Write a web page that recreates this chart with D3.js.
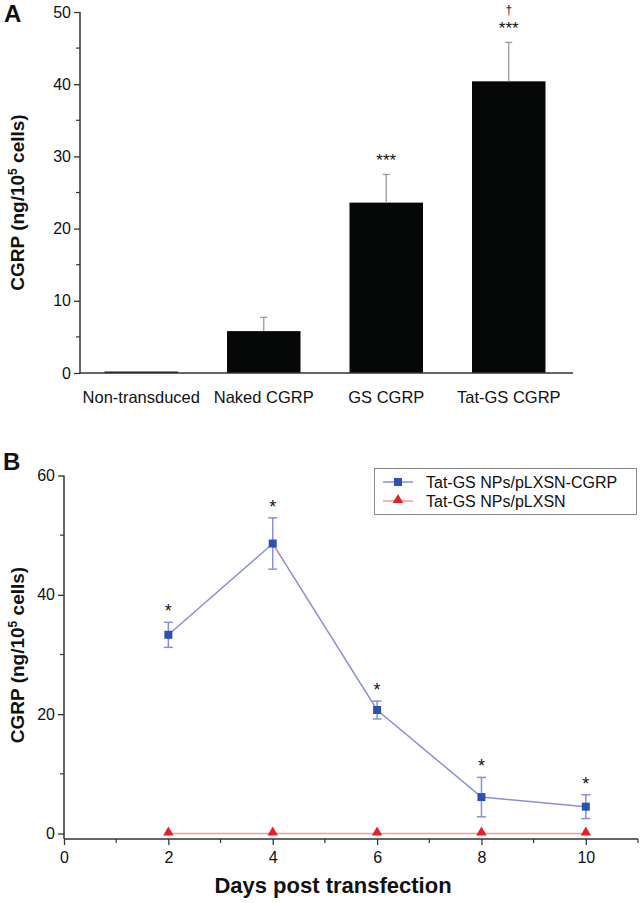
<!DOCTYPE html>
<html><head><meta charset="utf-8">
<script src="https://cdn.jsdelivr.net/npm/d3@7"></script>
<style>
body{margin:0;background:#fff;}
text{font-family:"Liberation Sans",Arial,Helvetica,sans-serif;}
</style></head>
<body><svg id="c" width="644" height="903"></svg>
<script>
// Panel A data
const categoriesA = ["Non-transduced","Naked CGRP","GS CGRP","Tat-GS CGRP"];
const valuesA = [0.2, 5.8, 23.6, 40.4];
const errorsA = [0, 1.9, 3.9, 5.4];
const sigA = ["", "", "***", "***"];
const daggerA = ["", "", "", "†"];
const yTicksA = [0,10,20,30,40,50];

// Panel B data
const daysB = [2,4,6,8,10];
const seriesCGRP = [33.3, 48.6, 20.7, 6.1, 4.5];
const errCGRP = [2.1, 4.3, 1.5, 3.3, 2.0];
const seriesCtrl = [0, 0, 0, 0, 0];
const sigB = ["*","*","*","*","*"];
const xTicksB = [0,2,4,6,8,10];
const yTicksB = [0,20,40,60];
const legendLabels = ["Tat-GS NPs/pLXSN-CGRP","Tat-GS NPs/pLXSN"];

const svg = d3.select("#c");
const axisColor = "#333";

// ---------- Panel A ----------
const A = {left:80, right:573, top:12, bottom:373};
const xA = d3.scaleBand().domain(categoriesA).range([A.left, A.right-3]).paddingInner(0.4).paddingOuter(0.2);
const yA = d3.scaleLinear().domain([0,50]).range([A.bottom, A.top]);
const gA = svg.append("g");

gA.selectAll("rect.bar").data(categoriesA).enter().append("rect")
  .attr("x", d=>xA(d)).attr("width", xA.bandwidth())
  .attr("y", (d,i)=>yA(valuesA[i])).attr("height",(d,i)=>yA(0)-yA(valuesA[i]))
  .attr("fill","#060808");
categoriesA.forEach((c,i)=>{
  if(!errorsA[i]) return;
  const cx = xA(c)+xA.bandwidth()/2;
  const top = yA(valuesA[i]+errorsA[i]);
  gA.append("line").attr("x1",cx).attr("x2",cx).attr("y1",yA(valuesA[i])).attr("y2",top).attr("stroke","#9a9a9a").attr("stroke-width",1.3);
  gA.append("line").attr("x1",cx-3.5).attr("x2",cx+3.5).attr("y1",top).attr("y2",top).attr("stroke","#9a9a9a").attr("stroke-width",1.3);
  if(sigA[i]) gA.append("text").attr("x",cx).attr("y",top-8).attr("text-anchor","middle").attr("font-size",17).attr("fill","#111").text(sigA[i]);
  if(daggerA[i]) gA.append("text").attr("x",cx).attr("y",top-28).attr("text-anchor","middle").attr("font-size",12).attr("fill","#111").text(daggerA[i]);
});

const yAxA = d3.axisLeft(yA).tickValues(yTicksA).tickSize(6).tickPadding(3);
const gyA = gA.append("g").attr("transform",`translate(${A.left},0)`).call(yAxA);
gyA.select(".domain").attr("stroke",axisColor).attr("stroke-width",1.5).attr("d",`M-0,${yA(50)}H0V${yA(0)}`);
gyA.selectAll(".tick line").attr("stroke",axisColor).attr("stroke-width",1.3);
gyA.selectAll(".tick text").attr("font-size",16).attr("fill","#111").attr("font-family","Liberation Sans, Arial, sans-serif");
gA.selectAll("line.minA").data(d3.range(5,50,10)).enter().append("line")
  .attr("x1",A.left-4).attr("x2",A.left).attr("y1",d=>yA(d)).attr("y2",d=>yA(d)).attr("stroke",axisColor).attr("stroke-width",1.2);
const xAxA = d3.axisBottom(xA).tickSize(0).tickPadding(18);
const gxA = gA.append("g").attr("transform",`translate(0,${yA(0)})`).call(xAxA);
gxA.select(".domain").attr("stroke",axisColor).attr("stroke-width",1.5).attr("d",`M${A.left},0H${A.right}`);
gxA.selectAll(".tick text").attr("font-size",16.5).attr("fill","#111").attr("font-family","Liberation Sans, Arial, sans-serif");

const ylabA = gA.append("text").attr("transform",`translate(24,${(A.top+A.bottom)/2+10}) rotate(-90)`)
  .attr("text-anchor","middle").attr("font-size",19).attr("font-weight","bold").attr("fill","#111");
ylabA.append("tspan").text("CGRP (ng/10");
ylabA.append("tspan").attr("font-size",12).attr("dy",-7).text("5");
ylabA.append("tspan").attr("dy",7).text(" cells)");
svg.append("text").attr("x",4).attr("y",22).attr("font-size",24).attr("font-weight","bold").attr("fill","#111").text("A");

// ---------- Panel B ----------
const B = {left:64, right:638, axisY:839};
const xB = d3.scaleLinear().domain([0,11]).range([B.left, B.right]);
const yB = d3.scaleLinear().domain([0,60]).range([833.5, 475.5]);
const gB = svg.append("g");

const yAxB = d3.axisLeft(yB).tickValues(yTicksB).tickSize(6).tickPadding(3);
const gyB = gB.append("g").attr("transform",`translate(${B.left},0)`).call(yAxB);
gyB.select(".domain").attr("stroke",axisColor).attr("stroke-width",1.5).attr("d",`M0,${yB(60)}V${B.axisY}`);
gyB.selectAll(".tick line").attr("stroke",axisColor).attr("stroke-width",1.3);
gyB.selectAll(".tick text").attr("font-size",16).attr("fill","#111").attr("font-family","Liberation Sans, Arial, sans-serif");
gB.selectAll("line.minB").data(d3.range(10,60,20)).enter().append("line")
  .attr("x1",B.left-4).attr("x2",B.left).attr("y1",d=>yB(d)).attr("y2",d=>yB(d)).attr("stroke",axisColor).attr("stroke-width",1.2);

const xAxB = d3.axisBottom(xB).tickValues(xTicksB).tickSize(6).tickPadding(7);
const gxB = gB.append("g").attr("transform",`translate(0,${B.axisY})`).call(xAxB);
gxB.select(".domain").attr("stroke",axisColor).attr("stroke-width",1.5).attr("d",`M${B.left},0H${B.right}`);
gxB.selectAll(".tick line").attr("stroke",axisColor).attr("stroke-width",1.3);
gxB.selectAll(".tick text").attr("font-size",16).attr("fill","#111").attr("font-family","Liberation Sans, Arial, sans-serif");
gB.selectAll("line.minxB").data(d3.range(1,12,2)).enter().append("line")
  .attr("x1",d=>xB(d)).attr("x2",d=>xB(d)).attr("y1",B.axisY).attr("y2",B.axisY+4).attr("stroke",axisColor).attr("stroke-width",1.2);

const lineGen = d3.line().x((d,i)=>xB(daysB[i])).y(d=>yB(d));
gB.append("path").datum(seriesCtrl).attr("d",lineGen).attr("fill","none").attr("stroke","#f29a9c").attr("stroke-width",1.5);
const tri = d3.symbol().type(d3.symbolTriangle).size(48);
gB.selectAll("path.tri").data(seriesCtrl).enter().append("path")
  .attr("d",tri).attr("transform",(d,i)=>`translate(${xB(daysB[i])},${yB(d)-1})`).attr("fill","#e4202a");

const blueLine = "#8a8fd6";
gB.append("path").datum(seriesCGRP).attr("d",lineGen).attr("fill","none").attr("stroke",blueLine).attr("stroke-width",1.5);
seriesCGRP.forEach((v,i)=>{
  const cx = xB(daysB[i]);
  const t = yB(v+errCGRP[i]), b = yB(v-errCGRP[i]);
  gB.append("line").attr("x1",cx).attr("x2",cx).attr("y1",t).attr("y2",b).attr("stroke",blueLine).attr("stroke-width",1.5);
  [t,b].forEach(yy=>gB.append("line").attr("x1",cx-4.5).attr("x2",cx+4.5).attr("y1",yy).attr("y2",yy).attr("stroke",blueLine).attr("stroke-width",1.5));
  gB.append("text").attr("x",cx).attr("y",t-5).attr("text-anchor","middle").attr("font-size",18).attr("fill","#111").text(sigB[i]);
});
gB.selectAll("rect.sq").data(seriesCGRP).enter().append("rect")
  .attr("x",(d,i)=>xB(daysB[i])-4).attr("y",d=>yB(d)-4).attr("width",8).attr("height",8).attr("fill","#2f4fb0");

// legend
const lg = gB.append("g");
lg.append("rect").attr("x",374.5).attr("y",468.5).attr("width",262).attr("height",46).attr("fill","#fff").attr("stroke","#8a8a8a").attr("stroke-width",1);
const lgY = [482, 501];
const lgLine = [blueLine, "#f29a9c"];
legendLabels.forEach((lab,i)=>{
  lg.append("line").attr("x1",383).attr("x2",413).attr("y1",lgY[i]).attr("y2",lgY[i]).attr("stroke",lgLine[i]).attr("stroke-width",1.5);
  if(i===0) lg.append("rect").attr("x",394).attr("y",lgY[i]-4).attr("width",8).attr("height",8).attr("fill","#2f4fb0");
  else lg.append("path").attr("d",tri).attr("transform",`translate(398,${lgY[i]-1})`).attr("fill","#e4202a");
  lg.append("text").attr("x",426).attr("y",lgY[i]+5.5).attr("font-size",16).attr("fill","#111").text(lab);
});

const ylabB = gB.append("text").attr("transform",`translate(24,${655}) rotate(-90)`)
  .attr("text-anchor","middle").attr("font-size",19).attr("font-weight","bold").attr("fill","#111");
ylabB.append("tspan").text("CGRP (ng/10");
ylabB.append("tspan").attr("font-size",12).attr("dy",-7).text("5");
ylabB.append("tspan").attr("dy",7).text(" cells)");
gB.append("text").attr("x",(B.left+B.right)/2-18).attr("y",893).attr("text-anchor","middle").attr("font-size",22).attr("font-weight","bold").attr("fill","#111").text("Days post transfection");
svg.append("text").attr("x",3).attr("y",470).attr("font-size",24).attr("font-weight","bold").attr("fill","#111").text("B");
</script></body></html>
